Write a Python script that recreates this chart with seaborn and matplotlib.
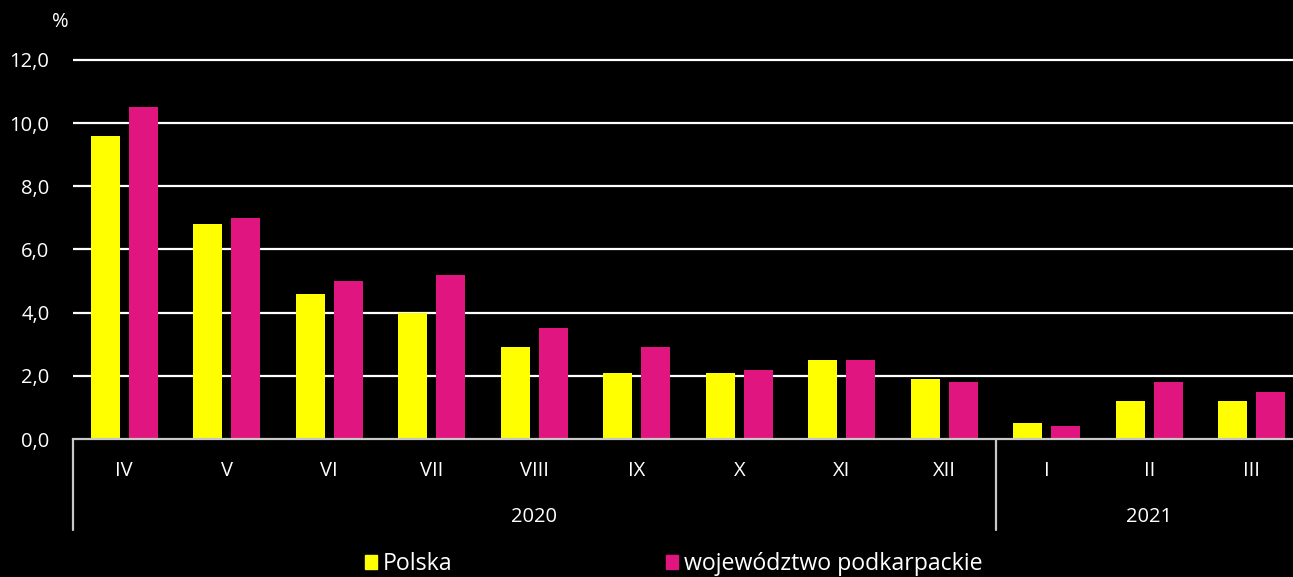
import matplotlib
matplotlib.use("Agg")
import matplotlib.pyplot as plt
import matplotlib.transforms as mtransforms
import seaborn as sns
import pandas as pd

# dane z wykresu
months = ['IV', 'V', 'VI', 'VII', 'VIII', 'IX', 'X', 'XI', 'XII', 'I', 'II', 'III']
polska = [9.6, 6.8, 4.6, 4.0, 2.9, 2.1, 2.1, 2.5, 1.9, 0.5, 1.2, 1.2]
podkarpackie = [10.5, 7.0, 5.0, 5.2, 3.5, 2.9, 2.2, 2.5, 1.8, 0.4, 1.8, 1.5]
series = ['Polska', 'województwo podkarpackie']
years = ['2020', '2021']
year_counts = [9, 3]

df = pd.DataFrame({
    'month': months * 2,
    'value': polska + podkarpackie,
    'series': [series[0]] * len(months) + [series[1]] * len(months),
})

sns.set_style("dark")
FONT = ['Open Sans', 'DejaVu Sans']
plt.rcParams['font.family'] = FONT

fig = plt.figure(figsize=(12.93, 5.77), dpi=100, facecolor='black')
# wykres wychodzi trochę poza prawą krawędź, jak w oryginale
ax = fig.add_axes([73 / 1293, 1 - 439 / 577, 1230 / 1293, 388.5 / 577])
ax.set_facecolor('black')

sns.barplot(data=df, x='month', y='value', hue='series', order=months,
            palette=['#ffff00', '#e0157f'], width=0.74, gap=0.235,
            saturation=1, linewidth=0, edgecolor='none',
            ax=ax, legend=False, zorder=3)

ax.set_ylim(0, 12.3)
ax.set_xlim(-0.5, len(months) - 0.5)
ax.set_xticks(range(len(months)))
ax.set_xticklabels(months, family=FONT)
ax.set_yticks([0, 2, 4, 6, 8, 10, 12])
ax.set_yticklabels(['0,0', '2,0', '4,0', '6,0', '8,0', '10,0', '12,0'], family=FONT)
for y in [2, 4, 6, 8, 10, 12]:
    ax.axhline(y, color='white', lw=1.6, zorder=1)
ax.grid(False)
ax.set_xlabel('')
ax.set_ylabel('')
ax.tick_params(axis='both', colors='white', labelsize=14.5, length=0)
ax.tick_params(axis='x', pad=16)
ax.tick_params(axis='y', pad=17)
for s in ['top', 'right', 'left']:
    ax.spines[s].set_visible(False)
ax.spines['bottom'].set_color('#c8c8c8')
ax.spines['bottom'].set_linewidth(1.6)
ax.spines['bottom'].set_zorder(4)

# lata i separatory
trans = mtransforms.blended_transform_factory(ax.transData, ax.transAxes)
start = -0.5
for yr, n in zip(years, year_counts):
    ax.plot([start, start], [0, -0.234], transform=trans, color='#c8c8c8',
            lw=1.6, clip_on=False)
    ax.text(start + n / 2, -0.2, yr, transform=trans, color='white',
            fontsize=14.5, ha='center', va='center', family=FONT)
    start += n

fig.text(60 / 1293, 1 - 22 / 577, '%', color='white', fontsize=14.5,
         ha='center', va='center', family=FONT)

handles = [plt.Rectangle((0, 0), 1, 1, color=c) for c in ['#ffff00', '#e0157f']]
fig.legend(handles, series, loc='center', bbox_to_anchor=(674 / 1293, 1 - 564 / 577),
           ncol=2, frameon=False, prop={'family': FONT, 'size': 16.7},
           labelcolor='white', handlelength=0.52, handleheight=0.52,
           handletextpad=0.26, columnspacing=9.2, borderpad=0)

fig.savefig('out.png', dpi=100, facecolor='black')
